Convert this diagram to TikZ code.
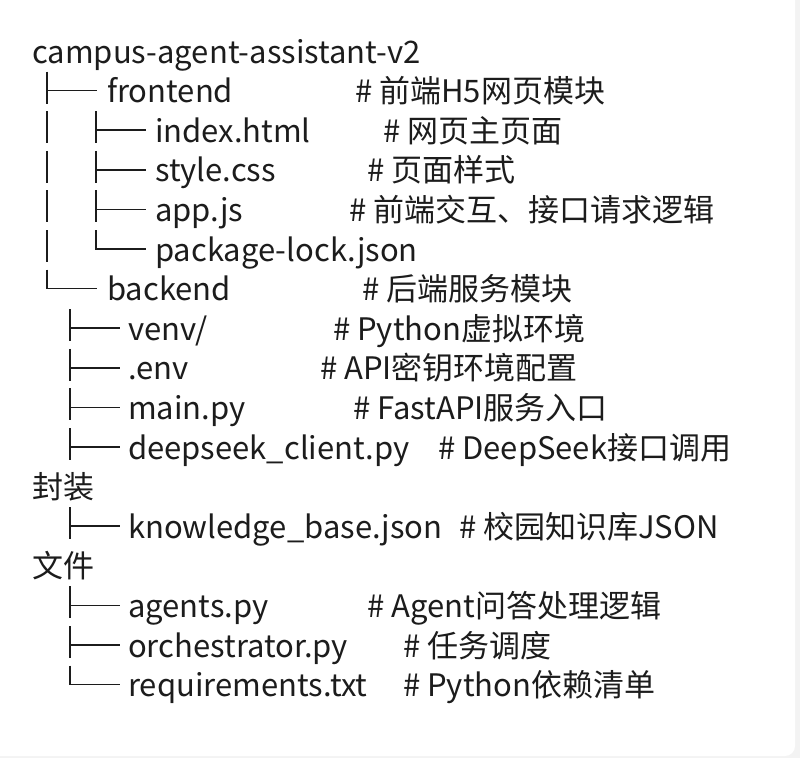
\documentclass[tikz,border=0pt]{standalone}
\usepackage{fontspec}
\setmainfont{Noto Sans CJK SC}
\usepackage{tikz}
\usetikzlibrary{positioning}

\definecolor{ink}{HTML}{1C1C1C}
\definecolor{pagebg}{HTML}{F3F3F3}

\begin{document}
\begin{tikzpicture}[x=1pt,y=-1pt]
\tikzstyle{file} = [anchor=base west, inner sep=0pt, text=ink, font=\fontsize{31}{37}\selectfont]
\tikzstyle{note} = [file]
\tikzstyle{branch} = [draw=ink, line width=1.6pt]
\useasboundingbox (0,0) rectangle (800,758);
\fill[pagebg] (0,0) rectangle (800,758);
\fill[white, rounded corners=10pt] (-20,-20) rectangle (795,756);
% root and first level
\node[file] (root) at (32,63) {campus-agent-assistant-v2};
\node[file] (frontend) at (107,102.6) {frontend};
\node[note] (frontendnote) at (355,102.6) {\# 前端H5网页模块};
\node[file] (index) at (155,142.2) {index.html};
\node[note] (indexnote) at (383,142.2) {\# 网页主页面};
\node[file] (style) at (155,181.8) {style.css};
\node[note] (stylenote) at (367,181.8) {\# 页面样式};
\node[file] (app) at (155,221.4) {app.js};
\node[note] (appnote) at (349,221.4) {\# 前端交互、接口请求逻辑};
\node[file] (lock) at (155,261) {package-lock.json};
\node[file] (backend) at (107,300.6) {backend};
\node[note] (backendnote) at (362,300.6) {\# 后端服务模块};
% backend files
\node[file] (venv) at (128,340.2) {venv/};
\node[note] (venvnote) at (333,340.2) {\# Python虚拟环境};
\node[file] (env) at (128,379.8) {.env};
\node[note] (envnote) at (320,379.8) {\# API密钥环境配置};
\node[file] (main) at (128,419.4) {main.py};
\node[note] (mainnote) at (353,419.4) {\# FastAPI服务入口};
\node[file] (client) at (128,459) {deepseek\_client.py};
\node[note] (clientnote) at (438,459) {\# DeepSeek接口调用};
\node[file] (clientwrap) at (32,498.6) {封装};
\node[file] (kb) at (128,538.2) {knowledge\_base.json};
\node[note] (kbnote) at (459,538.2) {\# 校园知识库JSON};
\node[file] (kbwrap) at (32,577.8) {文件};
\node[file] (agents) at (128,617.4) {agents.py};
\node[note] (agentsnote) at (367,617.4) {\# Agent问答处理逻辑};
\node[file] (orch) at (128,657) {orchestrator.py};
\node[note] (orchnote) at (403,657) {\# 任务调度};
\node[file] (req) at (128,696.6) {requirements.txt};
\node[note] (reqnote) at (403,696.6) {\# Python依赖清单};
% tree branches, drawn row by row
\draw[branch] ([xshift=-60pt,yshift=31pt]frontend.base west) -- ++(0,-32pt)
              ([xshift=-60pt,yshift=12pt]frontend.base west) -- ++(50pt,0);
\draw[branch] ([xshift=-108pt,yshift=31pt]index.base west) -- ++(0,-32pt)
              ([xshift=-59pt,yshift=31pt]index.base west) -- ++(0,-32pt)
              ([xshift=-59pt,yshift=12pt]index.base west) -- ++(50pt,0);
\draw[branch] ([xshift=-108pt,yshift=31pt]style.base west) -- ++(0,-32pt)
              ([xshift=-59pt,yshift=31pt]style.base west) -- ++(0,-32pt)
              ([xshift=-59pt,yshift=12pt]style.base west) -- ++(50pt,0);
\draw[branch] ([xshift=-108pt,yshift=31pt]app.base west) -- ++(0,-32pt)
              ([xshift=-59pt,yshift=31pt]app.base west) -- ++(0,-32pt)
              ([xshift=-59pt,yshift=12pt]app.base west) -- ++(50pt,0);
\draw[branch] ([xshift=-108pt,yshift=31pt]lock.base west) -- ++(0,-32pt)
              ([xshift=-59pt,yshift=31pt]lock.base west) |- ++(50pt,-19pt);
\draw[branch] ([xshift=-60pt,yshift=31pt]backend.base west) |- ++(50pt,-19pt);
\draw[branch] ([xshift=-58pt,yshift=31pt]venv.base west) -- ++(0,-32pt)
              ([xshift=-58pt,yshift=12pt]venv.base west) -- ++(50pt,0);
\draw[branch] ([xshift=-58pt,yshift=31pt]env.base west) -- ++(0,-32pt)
              ([xshift=-58pt,yshift=12pt]env.base west) -- ++(50pt,0);
\draw[branch] ([xshift=-58pt,yshift=31pt]main.base west) -- ++(0,-32pt)
              ([xshift=-58pt,yshift=12pt]main.base west) -- ++(50pt,0);
\draw[branch] ([xshift=-58pt,yshift=31pt]client.base west) -- ++(0,-32pt)
              ([xshift=-58pt,yshift=12pt]client.base west) -- ++(50pt,0);
\draw[branch] ([xshift=-58pt,yshift=31pt]kb.base west) -- ++(0,-32pt)
              ([xshift=-58pt,yshift=12pt]kb.base west) -- ++(50pt,0);
\draw[branch] ([xshift=-58pt,yshift=31pt]agents.base west) -- ++(0,-32pt)
              ([xshift=-58pt,yshift=12pt]agents.base west) -- ++(50pt,0);
\draw[branch] ([xshift=-58pt,yshift=31pt]orch.base west) -- ++(0,-32pt)
              ([xshift=-58pt,yshift=12pt]orch.base west) -- ++(50pt,0);
\draw[branch] ([xshift=-58pt,yshift=31pt]req.base west) |- ++(50pt,-19pt);
\end{tikzpicture}
\end{document}
